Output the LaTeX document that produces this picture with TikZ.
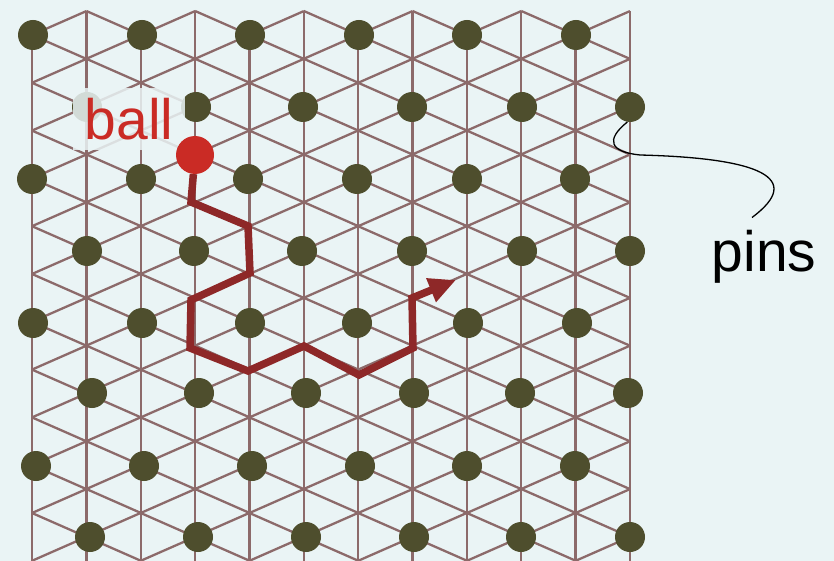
\documentclass[tikz,border=0pt]{standalone}
\usepackage{fontspec}
\setmainfont{Liberation Sans}
\usetikzlibrary{arrows.meta, positioning}
\definecolor{boardbg}{HTML}{EAF4F5}
\definecolor{latticeline}{HTML}{8C6A6A}
\definecolor{pegfill}{HTML}{4E4E2D}
\definecolor{ballred}{HTML}{CA2B25}
\definecolor{trackred}{HTML}{8E2828}

\begin{document}
\begin{tikzpicture}[
        x=1pt, y=-1pt,
        lattice/.style={latticeline, line width=2.3pt},
        peg/.style={circle, fill=pegfill, minimum size=30pt, inner sep=0pt},
        ballnode/.style={circle, fill=ballred, minimum size=38pt, inner sep=0pt},
        track/.style={trackred, line width=7.5pt, -{Triangle[length=27pt, width=24pt]}},
        biglabel/.style={font=\fontsize{57}{60}\selectfont, inner sep=0pt},
        leader/.style={black, line width=1.3pt}
    ]
        \fill[boardbg] (0,0) rectangle (834,561);
        \useasboundingbox (0,0) rectangle (834,561);

        \begin{scope}
            \clip (0,0) rectangle (834,561);
            \foreach \i in {0,...,11} {
                \pgfmathsetmacro\xa{32+\i*54.36}
                \pgfmathsetmacro\ytop{isodd(\i) ? 11 : 35}
                \draw[lattice] (\xa,\ytop) -- (\xa,570);
            }
            \foreach \i in {0,...,10} {
                \pgfmathsetmacro\xa{32+\i*54.36}
                \pgfmathsetmacro\xb{\xa+54.36}
                \pgfmathsetmacro\ytop{isodd(\i) ? 11 : 35}
                \foreach \k in {0,...,11} {
                    \pgfmathsetmacro\ya{\ytop+\k*47.8}
                    \draw[lattice] (\xa,\ya) -- (\xb,\ya+23.9);
                    \pgfmathtruncatemacro\up{\ya>20}
                    \ifnum\up=1
                        \draw[lattice] (\xa,\ya) -- (\xb,\ya-23.9);
                    \fi
                }
            }
        \end{scope}

        \foreach \px/\py [count=\n] in {
                33/35, 142/35, 250/35, 359/35, 467/35, 576/35,
                87/107, 196/107, 303/107, 412/107, 522/107, 630/107,
                32/179, 141/179, 248/179, 357/179, 467/179, 575/179,
                87/251, 194/251, 302/251, 412/251, 522/251, 630/251,
                33/323, 142/323, 250/323, 357/323, 468/323, 577/323,
                92/393, 199/393, 306/393, 414/393, 520/393, 628/393,
                36/466, 144/466, 252/466, 360/466, 467/466, 575/466,
                90/537, 198/537, 306/537, 414/537, 521/537, 630/537}
            \node[peg] (p\n) at (\px,\py) {};

        \node[biglabel, text=ballred, fill=boardbg, fill opacity=0.85, text opacity=1,
            minimum width=112pt, minimum height=62pt] (balllabel) at (129,119) {ball};

        \node[ballnode] (ball) at (195,155) {};
        \coordinate (tip) at (456,280);
        \draw[track] (ball) -- (191,202) -- (248,226) -- (250,273) -- (191,300)
            -- (190,348) -- (248,371) -- (304,346) -- (359,375) -- (413,348)
            -- (412,298) -- (tip);

        \node[biglabel, anchor=base] (pinslabel) at (764,271) {pins};
        \draw[leader] (p12.260) .. controls (605,140) and (610,152) .. (640,155)
            .. controls (760,158) and (805,178) .. ([xshift=-12pt, yshift=12pt]pinslabel.north);
    \end{tikzpicture}
\end{document}
